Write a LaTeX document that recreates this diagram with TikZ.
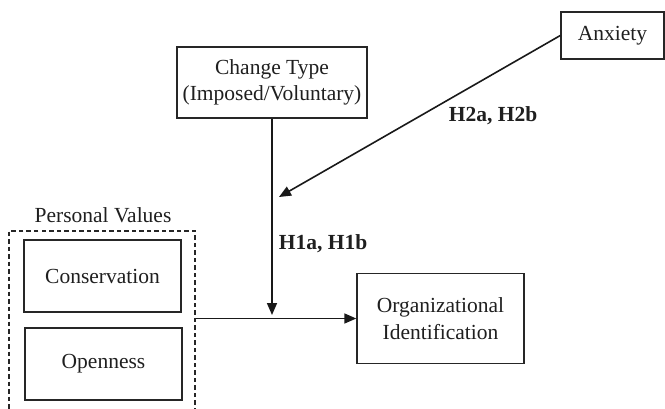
\documentclass[tikz,border=0pt]{standalone}
\usepackage{fontspec}
\setmainfont{Liberation Serif}
\usetikzlibrary{arrows.meta,calc}
\begin{document}
\begin{tikzpicture}[x=1pt,y=-1pt,
  every node/.style={font=\fontsize{21.5}{26.5}\selectfont, text=black!88},
  box/.style={draw=black!85, line width=1.4pt, rectangle, inner sep=0pt, align=center},
  dbox/.style={draw=black!85, line width=1.3pt, dash pattern=on 4.5pt off 3pt, rectangle, inner sep=0pt},
  arr/.style={draw=black!90, line width=1.6pt, -{Triangle[length=12pt,width=10pt]}},
  lbl/.style={font=\fontsize{21.5}{26.5}\selectfont\bfseries}
]
\useasboundingbox (0,0) rectangle (665,408);
\clip (0,0) rectangle (665,408);
\node[box, minimum width=103pt, minimum height=47pt] (anx) at (612.5,35.5) {Anxiety};
\node[box, minimum width=190pt, minimum height=71pt] (ct) at (272,82.5) {Change Type\\(Imposed/Voluntary)};
\node[box, minimum width=167pt, minimum height=90pt] (org) at (440.5,318.5) {Organizational\\Identification};
\node[dbox, minimum width=186pt, minimum height=190pt] (pv) at (102,326) {};
\node (pvl) at (103,215) {Personal Values};
\node[box, minimum width=157pt, minimum height=72pt] (cons) at (102.5,276) {Conservation};
\node[box, minimum width=157pt, minimum height=72pt] (open) at (103.5,364) {Openness};
\node[lbl] (h2) at (493,116) {H2a, H2b};
\node[lbl] (h1) at (323,244) {H1a, H1b};
\coordinate (j) at (ct.south |- org.west);
\coordinate (m) at (279,197);
\draw[arr] (pv.east |- org.west) -- (org.west);
\draw[arr, shorten >=3.5pt] (ct.south) -- (j);
\draw[arr] (anx.west) -- (m);
\end{tikzpicture}
\end{document}
